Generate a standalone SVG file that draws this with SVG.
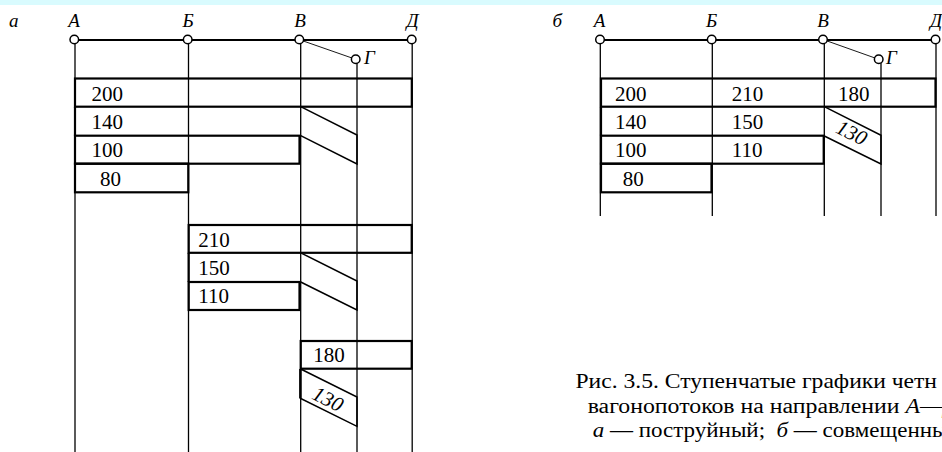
<svg xmlns="http://www.w3.org/2000/svg" width="942" height="452" viewBox="0 0 942 452">
<style>
.ln{stroke:#000;stroke-width:1.3;fill:none}
.main{stroke:#000;stroke-width:2;fill:none}
.thin{stroke:#000;stroke-width:0.9;fill:none}
.box{stroke:#000;stroke-width:2.2;fill:none}
.sl{stroke:#000;stroke-width:1.5;fill:none}
.st{fill:#fff;stroke:#000;stroke-width:1.5}
text{font-family:'Liberation Serif','Times New Roman',serif;fill:#000}
.lb{font-style:italic;font-size:19px}
.num{font-size:21px}
.cap{font-size:20px}
.it{font-style:italic}
</style>
<rect x="0" y="0" width="942" height="5" fill="#d9fbfe"/>

<g id="panel-a">
  <text class="lb" x="9" y="27">а</text>
  <g id="connectors-a">
    <line class="main" x1="75" y1="40" x2="412" y2="40"/>
    <line class="thin" x1="299" y1="39.5" x2="355.7" y2="59.3"/>
    <line class="ln" x1="75" y1="40" x2="75" y2="452"/>
    <line class="ln" x1="188.5" y1="40" x2="188.5" y2="452"/>
    <line class="ln" x1="300.7" y1="40" x2="300.7" y2="452"/>
    <line class="ln" x1="357" y1="59" x2="357" y2="452"/>
    <line class="ln" x1="412.2" y1="40" x2="412.2" y2="452"/>
  </g>
  <g id="st-a-A"><circle class="st" cx="74.3" cy="39.5" r="4.3"/><text class="lb" x="74" y="27" text-anchor="middle">А</text></g>
  <g id="st-a-B"><circle class="st" cx="187.7" cy="39.5" r="4.3"/><text class="lb" x="188" y="27" text-anchor="middle">Б</text></g>
  <g id="st-a-V"><circle class="st" cx="299.3" cy="39.5" r="4.3"/><text class="lb" x="300" y="27" text-anchor="middle">В</text></g>
  <g id="st-a-G"><circle class="st" cx="355.7" cy="59.3" r="4.3"/><text class="lb" x="364" y="64">Г</text></g>
  <g id="st-a-D"><circle class="st" cx="411.7" cy="39.5" r="4.3"/><text class="lb" x="412.5" y="27" text-anchor="middle">Д</text></g>

  <g id="flow-a-A">
    <rect class="box" x="75" y="78.5" width="336.8" height="28.2"/>
    <path class="box" d="M75 106.7 V135.7"/>
    <rect class="box" x="75" y="135.7" width="224.5" height="28"/>
    <rect class="box" x="75" y="163.7" width="113.3" height="28.6"/>
    <path class="sl" d="M300.7 106.7 L357 135 V164 L300.7 135.7"/>
    <text class="num" x="91.5" y="100.5">200</text>
    <text class="num" x="91.5" y="128.7">140</text>
    <text class="num" x="91.5" y="157">100</text>
    <text class="num" x="100" y="185.5">80</text>
  </g>
  <g id="flow-a-B">
    <rect class="box" x="188.7" y="225" width="223" height="27.8"/>
    <path class="box" d="M188.7 252.8 V282"/>
    <rect class="box" x="188.7" y="282" width="110.8" height="28"/>
    <path class="sl" d="M300.7 252.8 L357 281 V310 L300.7 282"/>
    <text class="num" x="198.3" y="246.5">210</text>
    <text class="num" x="198.3" y="275">150</text>
    <text class="num" x="198.3" y="303.3">110</text>
  </g>
  <g id="flow-a-V">
    <rect class="box" x="300.7" y="341" width="111" height="27.7"/>
    <path class="sl" d="M300.7 369 L357 397 V426.3 L300.7 398.5 Z"/>
    <path class="box" d="M300.2 369 V398.5"/>
    <text class="num it" x="0" y="0" text-anchor="middle" transform="translate(324.8 405.3) rotate(26.6)">130</text>
    <text class="num" x="313.3" y="362.3">180</text>
  </g>
</g>

<g id="panel-b">
  <text class="lb" x="552.5" y="27">б</text>
  <g id="connectors-b">
    <line class="main" x1="600" y1="40" x2="936" y2="40"/>
    <line class="thin" x1="823" y1="39.5" x2="878.7" y2="59.3"/>
    <line class="ln" x1="600.3" y1="40" x2="600.3" y2="216"/>
    <line class="ln" x1="712.3" y1="40" x2="712.3" y2="216"/>
    <line class="ln" x1="824.3" y1="40" x2="824.3" y2="216"/>
    <line class="ln" x1="881" y1="59" x2="881" y2="216"/>
    <line class="ln" x1="936" y1="40" x2="936" y2="216"/>
  </g>
  <g id="st-b-A"><circle class="st" cx="600" cy="39.5" r="4.3"/><text class="lb" x="599.5" y="27" text-anchor="middle">А</text></g>
  <g id="st-b-B"><circle class="st" cx="711.7" cy="39.5" r="4.3"/><text class="lb" x="711.7" y="27" text-anchor="middle">Б</text></g>
  <g id="st-b-V"><circle class="st" cx="823" cy="39.5" r="4.3"/><text class="lb" x="823" y="27" text-anchor="middle">В</text></g>
  <g id="st-b-G"><circle class="st" cx="878.7" cy="59.3" r="4.3"/><text class="lb" x="886" y="64">Г</text></g>
  <g id="st-b-D"><circle class="st" cx="935.5" cy="39.5" r="4.3"/><text class="lb" x="936" y="27" text-anchor="middle">Д</text></g>

  <g id="flow-b">
    <rect class="box" x="601" y="78.5" width="334.5" height="28.2"/>
    <path class="box" d="M601 106.7 V135.7"/>
    <rect class="box" x="601" y="135.7" width="222.7" height="28"/>
    <rect class="box" x="601" y="163.7" width="110.5" height="28.6"/>
    <path class="sl" d="M824.3 106.7 L881 135.3 V164 L824.3 136"/>
    <text class="num" x="615" y="100.5">200</text>
    <text class="num" x="615" y="128.7">140</text>
    <text class="num" x="615" y="157">100</text>
    <text class="num" x="622.7" y="185.5">80</text>
    <text class="num" x="731.7" y="100.5">210</text>
    <text class="num" x="731.7" y="128.7">150</text>
    <text class="num" x="731.7" y="157">110</text>
    <text class="num" x="838" y="100.5">180</text>
    <text class="num it" x="0" y="0" text-anchor="middle" transform="translate(848.5 139) rotate(26.6)">130</text>
  </g>
</g>

<g id="caption">
  <text class="cap" transform="translate(575.5 388) scale(1.18 1)">Рис. 3.5. Ступенчатые графики четн</text>
  <text class="cap" transform="translate(587.7 413) scale(1.19 1)">вагонопотоков на направлении <tspan class="it">А</tspan>—<tspan class="it">Д</tspan></text>
  <text class="cap" transform="translate(592.7 437) scale(1.15 1)" xml:space="preserve"><tspan class="it">а</tspan> — поструйный;  <tspan class="it">б</tspan> — совмещенны</text>
</g>
</svg>
